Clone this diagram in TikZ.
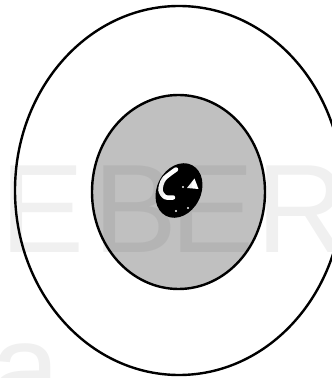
\documentclass[tikz,border=0pt]{standalone}
\usepackage{fontspec}
\newfontfamily\markfont{Liberation Sans}
\usepackage{tikz}

\tikzset{
  ring/.style={draw=black, line width=2.4pt},
  markletter/.style={anchor=base west, inner sep=0pt, text=black, text opacity=0.06,
    font=\markfont\fontsize{126}{126}\selectfont}
}

\begin{document}
\begin{tikzpicture}[x=1pt, y=1pt]
  \pgfmathsetmacro{\ox}{179}
  \pgfmathsetmacro{\oy}{187.5}
  \pgfmathsetmacro{\gx}{178.5}
  \pgfmathsetmacro{\gy}{186}
  \pgfmathsetmacro{\bx}{179}
  \pgfmathsetmacro{\by}{187.5}

  \useasboundingbox (0,0) rectangle (332,378);
  \clip (0,0) rectangle (332,378);

  % outer ring and grey disc
  \draw[ring] (\ox,\oy) ellipse [x radius=164pt, y radius=184.5pt];
  \filldraw[ring, fill={rgb,255:red,192;green,192;blue,192}] (\gx,\gy) ellipse [x radius=86.5pt, y radius=97pt];

  % dark ball in the middle
  \fill[black, rotate around={63:(\bx,\by)}] (\bx,\by) ellipse [x radius=28.5pt, y radius=22pt];
  \draw[white, line width=4.5pt, line cap=round]
    plot[smooth] coordinates {(176,208.5) (164,199) (160.5,188) (165,181) (173,180.5)};
  \fill[white] (194.5,199.5) -- (187,190) -- (198.5,189) -- cycle;
  \fill[white] (183,191) circle[radius=1.2pt];
  \fill[white] (176,167) circle[radius=1.2pt];
  \fill[white] (188,170) circle[radius=1.2pt];

  % faint watermark letters
  \node[markletter] (wmE) at (0,125) {E};
  \node[markletter] (wmB) at (93,125) {B};
  \node[markletter] (wmEb) at (170,125) {E};
  \node[markletter] (wmR) at (256,125) {R};
  \node[markletter] (wma) at (-10,-34) {a};
\end{tikzpicture}
\end{document}
